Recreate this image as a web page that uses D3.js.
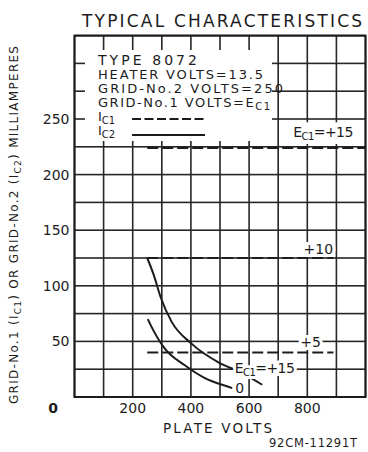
<!DOCTYPE html>
<html><head><meta charset="utf-8">
<script src="https://cdn.jsdelivr.net/npm/d3@7"></script>
<style>body{margin:0;background:#fff}svg{display:block}</style>
</head><body>
<script>
// ---- data ----
const xGridVolts = [0,100,200,300,400,500,600,700,800,900,1000];
const yGridMa = [0,25,50,75,100,125,150,175,200,225,250,275,300,325];
const xTickLabels = [200,400,600,800];
const yTickLabels = [50,100,150,200,250];

// Grid-No.1 current (dashed), constant vs plate volts
const ic1Labels = ["+15","+10","+5"];
const ic1Volts = [[250,1000],[250,890],[250,890]];
const ic1Ma = [224,125,40];

// Grid-No.2 current (solid)
const ic2Labels = ["+15","0"];
const ic2VoltsPlus15 = [250,272,297,333,402,496,577,645];
const ic2MaPlus15   = [125,110, 89, 68, 48, 31,21.5, 11];
const ic2VoltsZero  = [252,263,309,379,448,531,542];
const ic2MaZero     = [ 70, 64, 44,28.5, 17,  9,  8];

// ---- layout ----
const W = 368, H = 452;
const L = 74.5, R = 365.5, T = 35.6, B = 397;
const x = d3.scaleLinear().domain([0,1000]).range([L,R]);
const y = d3.scaleLinear().domain([0,325]).range([B,T]);
const ink = "#1c1c1c";
const gridInk = "#262626";
const font = "'DejaVu Sans', sans-serif";

const svg = d3.select("body").append("svg").attr("width",W).attr("height",H);
const g = svg.append("g");

// grid (drawn as thin filled bars)
g.append("g").selectAll("rect").data(xGridVolts).join("rect")
  .attr("x",d=>x(d)-0.8).attr("width",1.6).attr("y",y(325)).attr("height",y(0)-y(325))
  .attr("fill",gridInk);
g.append("g").selectAll("rect").data(yGridMa).join("rect")
  .attr("y",d=>y(d)-0.8).attr("height",1.6).attr("x",x(0)).attr("width",x(1000)-x(0))
  .attr("fill",gridInk);

// legend mask
g.append("rect").attr("x",85).attr("y",50).attr("width",187).attr("height",91).attr("fill","#fff");
// upper label mask
g.append("rect").attr("x",x(735)).attr("y",y(247)).attr("width",x(995)-x(735)).attr("height",y(227.5)-y(247)).attr("fill","#fff");

// frame
g.append("rect").attr("x",L).attr("y",T).attr("width",R-L).attr("height",B-T)
  .attr("fill","none").attr("stroke",ink).attr("stroke-width",2);

// Ic1 dashed lines
ic1Ma.forEach((ma,i)=>{
  g.append("line").attr("x1",x(ic1Volts[i][0])).attr("x2",x(ic1Volts[i][1]))
   .attr("y1",y(ma)).attr("y2",y(ma))
   .attr("stroke",ink).attr("stroke-width",2).attr("stroke-dasharray","11,4");
});

// Ic2 solid curves
const curveGen = d3.line().x(d=>x(d[0])).y(d=>y(d[1])).curve(d3.curveMonotoneX);
[[ic2VoltsPlus15,ic2MaPlus15],[ic2VoltsZero,ic2MaZero]].forEach(([v,m])=>{
  g.append("path").datum(v.map((vv,i)=>[vv,m[i]])).attr("d",curveGen)
   .attr("fill","none").attr("stroke",ink).attr("stroke-width",2);
});

function txt(parent, xx, yy, size, opts={}){
  const t = parent.append("text").attr("x",xx).attr("y",yy)
    .attr("font-family",font).attr("font-size",size).attr("fill",ink);
  if(opts.anchor) t.attr("text-anchor",opts.anchor);
  if(opts.len) t.attr("textLength",opts.len).attr("lengthAdjust",opts.adj||"spacing");
  return t;
}
function withHalo(parent, xx, yy, size, build, opts={}){
  const h = txt(parent,xx,yy,size,opts).attr("stroke","#fff").attr("stroke-width",6).attr("fill","#fff");
  build(h);
  const t = txt(parent,xx,yy,size,opts);
  build(t);
}
const sub = (t, s, size)=> t.append("tspan").attr("font-size",size).attr("dy",3).text(s);
const unsub = (t, s)=> t.append("tspan").attr("dy",-3).text(s);

// curve labels
withHalo(g, x(752), y(234), 14, t=>{t.append("tspan").text("E"); sub(t,"C1",10); unsub(t,"=+15");}, {len:60});
withHalo(g, x(787), y(129), 14, t=>{t.text(ic1Labels[1]);});
withHalo(g, x(776), y(45), 14, t=>{t.text(ic1Labels[2]);});
withHalo(g, x(551), y(21.5), 14, t=>{t.append("tspan").text("E"); sub(t,"C1",10); unsub(t,"=+15");}, {len:60});
withHalo(g, x(552), y(3.5), 14, t=>{t.text(ic2Labels[1]);});

// legend
txt(g, 98, 65, 14, {len:99}).text("TYPE 8072");
txt(g, 98, 79, 13, {len:165}).text("HEATER VOLTS=13.5");
txt(g, 98, 93, 13, {len:185}).text("GRID-No.2 VOLTS=250");
{ const t = txt(g, 98, 106.5, 13, {len:172}); t.append("tspan").text("GRID-No.1 VOLTS=E"); sub(t,"C1",10); }
{ const t = txt(g, 98, 121, 13); t.append("tspan").text("I"); sub(t,"C1",10); }
{ const t = txt(g, 98, 135, 13); t.append("tspan").text("I"); sub(t,"C2",10); }
g.append("line").attr("x1",132).attr("x2",204).attr("y1",119).attr("y2",119)
  .attr("stroke",ink).attr("stroke-width",2).attr("stroke-dasharray","9,3.5");
g.append("line").attr("x1",132).attr("x2",205).attr("y1",135).attr("y2",135)
  .attr("stroke",ink).attr("stroke-width",2);

// tick labels
g.append("g").selectAll("text").data(yTickLabels).join("text")
  .attr("font-family",font).attr("font-size",14).attr("fill",ink)
  .attr("x",L-5).attr("y",d=>y(d)+5).attr("text-anchor","end").text(d=>d);
g.append("g").selectAll("text").data(xTickLabels).join("text")
  .attr("font-family",font).attr("font-size",14).attr("fill",ink)
  .attr("x",d=>x(d)).attr("y",B+16).attr("text-anchor","middle").text(d=>d);
txt(g, 53, 413, 14, {anchor:"middle"}).attr("font-weight","bold").text("0");

// axis titles
txt(g, 217.5, 433, 13.5, {anchor:"middle", len:109}).text("PLATE VOLTS");
txt(g, 313, 447, 11.5, {anchor:"middle", len:88}).text("92CM-11291T");
txt(g, 222, 27, 17, {anchor:"middle", len:280}).text("TYPICAL CHARACTERISTICS");
{
  const t = txt(g, 0, 0, 12, {anchor:"middle", len:358}).attr("transform","translate(18,225) rotate(-90)");
  t.append("tspan").text("GRID-No.1 (I"); sub(t,"C1",9); unsub(t,") OR GRID-No.2 (I"); sub(t,"C2",9); unsub(t,") MILLIAMPERES");
}
</script>
</body></html>
